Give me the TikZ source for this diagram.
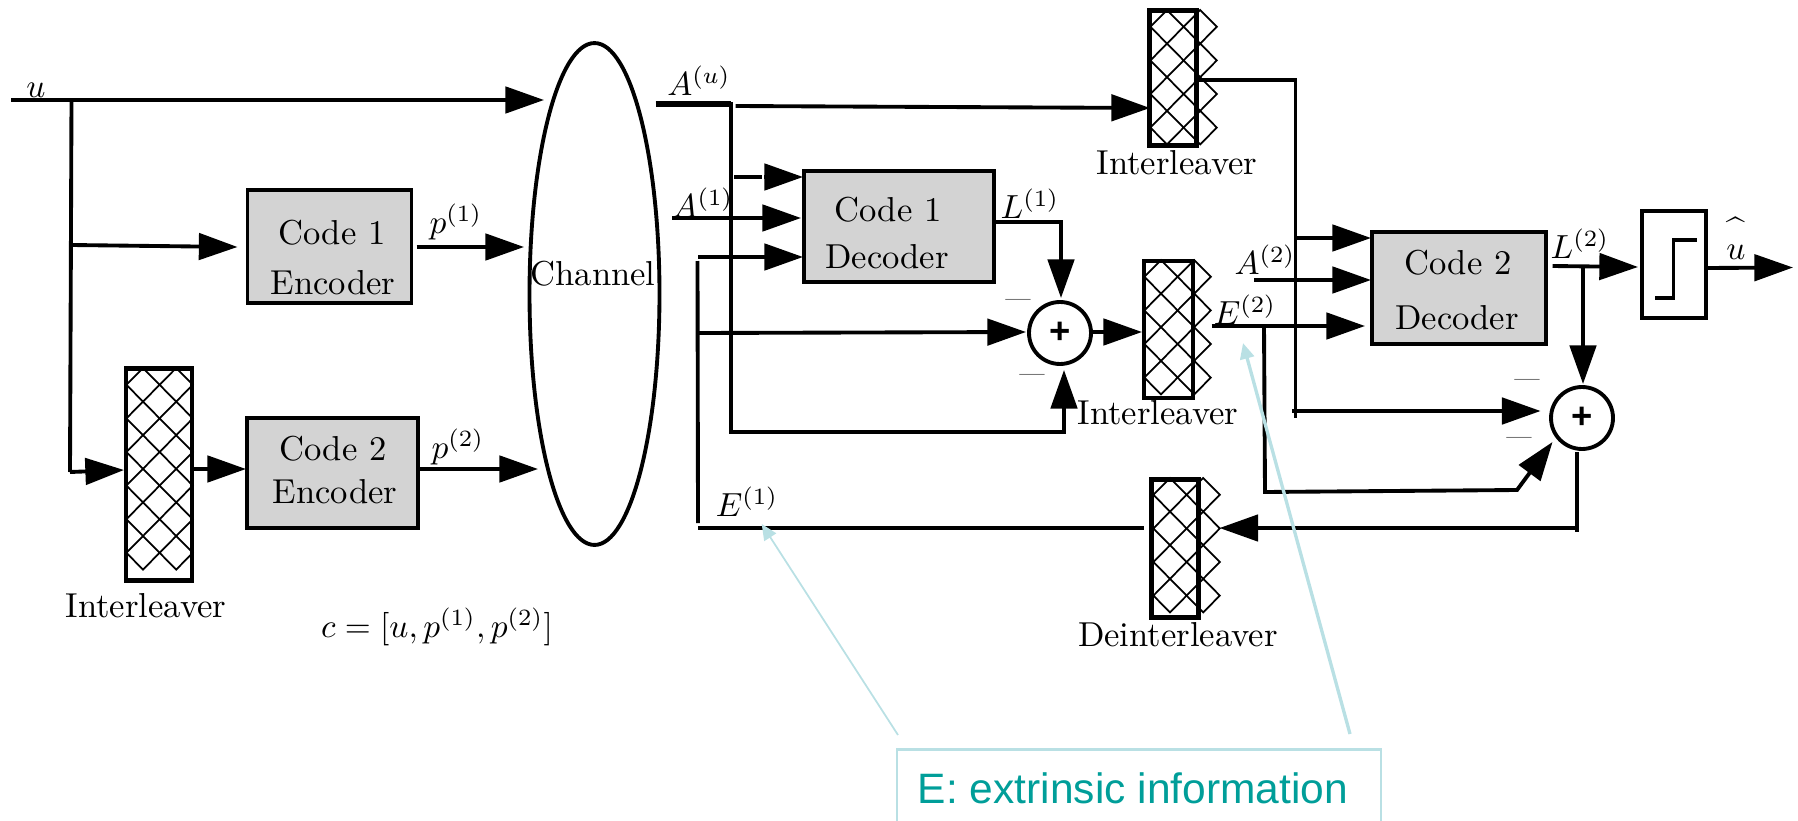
\documentclass[tikz,border=0pt]{standalone}
\usepackage{amsmath}
\usepackage{amsfonts}
\usepackage{amssymb}
\usepackage{xcolor}
\usepackage{fontspec}
\usepackage{tikz}
\usetikzlibrary{arrows.meta,shapes.geometric}
\newfontfamily\calloutfont{Liberation Sans}
\definecolor{coderfill}{HTML}{D3D3D3}
\definecolor{calloutline}{HTML}{B9E0E4}
\definecolor{callouttext}{HTML}{009E99}
\tikzstyle{lab}=[draw=none, inner sep=0mm, scale=1.9]
\tikzstyle{txt}=[draw=none, inner sep=0mm, scale=1.97]
\tikzstyle{coder}=[draw, rectangle, fill=coderfill, inner sep=0mm]
\tikzstyle{rack}=[draw, rectangle, inner sep=0mm, line width=2.6pt]
\tikzstyle{summer}=[draw, circle, inner sep=0mm, minimum size=1.24cm, font=\calloutfont\bfseries\huge]
\tikzstyle{latt}=[line width=1pt, line join=miter]
\tikzstyle{tag}=[calloutline, -{Triangle[length=9pt,width=8pt]}]
% one rack of crossed bars: left centre x, top y, rows
\newcommand{\crossrack}[3]{
  \foreach \r in {1,...,#3}
    \foreach \c in {0,1}
      \draw[latt] ({#1+33.2*\c},{#2+33.6*(\r-0.5)}) ++(-16.6,0) -- ++(16.6,-16.8) -- ++(16.6,16.8) -- ++(-16.6,16.8) -- cycle;
}
\begin{document}
\begin{tikzpicture}[x=.02cm, y=-.02cm, line width=2.2pt, >={Triangle[length=22pt,width=15pt]}]
\path[use as bounding box, clip] (0,0) rectangle (1798,821);
% boxes
\node[coder, minimum width=3.28cm, minimum height=2.25cm] (enc1) at (329.5,246.5) {};
\node[coder, minimum width=3.42cm, minimum height=2.2cm] (enc2) at (332.5,473) {};
\node[coder, minimum width=3.81cm, minimum height=2.23cm] (dec1) at (899,226.5) {};
\node[coder, minimum width=3.47cm, minimum height=2.24cm] (dec2) at (1459,288) {};
\node[draw, rectangle, minimum width=1.28cm, minimum height=2.14cm] (slicer) at (1674,264.5) {};
\node[draw, ellipse, inner sep=0mm, minimum width=2.6cm, minimum height=10.04cm] (channel) at (594.5,294) {};
\node[summer] (sum1) at (1060,333) {+};
\node[summer] (sum2) at (1582,418) {+};
% interleavers
\crossrack{143}{368}{6}
\crossrack{1167}{10}{4}
\crossrack{1161}{260}{4}
\crossrack{1170}{478}{4}
\node[rack, minimum width=1.32cm, minimum height=4.24cm] (il1) at (159,474.5) {};
\node[rack, minimum width=.94cm, minimum height=2.7cm] (il2) at (1173,78) {};
\node[rack, minimum width=.98cm, minimum height=2.74cm] (il3) at (1168.5,329.5) {};
\node[rack, minimum width=.95cm, minimum height=2.76cm] (il4) at (1175,548.5) {};
% end points of the lines
\foreach \n/\x/\y in {uin/11/100, usplit/71.5/100, uchan/544/100, ulow/70/472, tap1/72/245, enc1in/237.5/247,
  enc1out/416.5/247, chp1/524/247, il1in/124/470, il1out/194/469, enc2in/246/469, enc2out/420/469, chp2/538/469,
  au/655.5/104, aubus/730.6/104, aucorner/730.6/432, s1low/1064/432, s1lowin/1064/370,
  fwd/735.5/106, il2in/1150/108, topa/734/177, topb/762/177, topc/764/177, dec1a/803/177,
  a1in/672/218, dec1b/801/218, e1top/698/257, dec1c/803/257, e1corner/697.5/261, e1tap/698/333, s1in/1026/332,
  e1low/698/523, e1line/698/528, e1end/1144/528,
  l1out/996/222, l1corner/1061/222, s1top/1061/298, s1out/1093/332, il3in/1142/332,
  il2out/1199/80, bus2top/1295.5/80, bus2low/1295.5/418, bus2tap/1292/411, s2in/1540.6/411,
  bus2up/1295.5/238, dec2a/1371/238, a2in/1254/280, dec2b/1371/280, e2out/1211.5/326, dec2c/1365/326,
  e2tap/1264/326, e2corner/1265/492, e2run/1517/490, s2low/1552.5/442,
  l2out/1552.5/266, slin/1638/267, l2tap/1583/267, s2top/1583/384, slout/1707/268, uhat/1793/267.5,
  s2bot/1577/452, s2end/1577/532, s2back/1577/528, il4in/1219.5/528,
  st1/1655/298, st2/1673.5/298, st3/1673.5/240, st4/1697/240,
  tagl/898/735, tagla/761.7/524, tagr/1350/734, tagra/1243/343}
  \coordinate (\n) at (\x,\y);
% lines
\foreach \f/\t in {uin/uchan, tap1/enc1in, enc1out/chp1, ulow/il1in, il1out/enc2in, enc2out/chp2, fwd/il2in,
  topc/dec1a, a1in/dec1b, e1top/dec1c, e1tap/s1in, s1out/il3in, bus2tap/s2in, bus2up/dec2a, a2in/dec2b,
  e2out/dec2c, l2out/slin, l2tap/s2top, slout/uhat, s2back/il4in}
  \draw[->] (\f) -- (\t);
\foreach \f/\t in {usplit/ulow, topa/topb, e1corner/e1low, e1line/e1end, s2bot/s2end}
  \draw (\f) -- (\t);
\draw[->] (au) -- (aubus) -- (aucorner) -- (s1low) -- (s1lowin);
\draw[line width=2.9pt] (au) -- (aubus);
\draw[->] (l1out) -- (l1corner) -- (s1top);
\draw (il2out) -- (bus2top) -- (bus2low);
\draw[->] (e2tap) -- (e2corner) -- (e2run) -- (s2low);
\draw (st1) -- (st2) -- (st3) -- (st4);
% labels
\foreach \n/\x/\y/\t in {lu/36/90/{$u$}, lp1/456/222/{$p^{(1)}$}, lp2/458/447/{$p^{(2)}$},
  lcw/437/627/{$c = [u,p^{(1)},p^{(2)}]$},
  lau/699/81/{$A^{(u)}$}, la1/703/203/{$A^{(1)}$}, ll1/1030/204/{$L^{(1)}$},
  la2/1265/260/{$A^{(2)}$}, le2/1245/310/{$E^{(2)}$}, le1/747/502/{$E^{(1)}$}, ll2/1580/244/{$L^{(2)}$}}
  \node[lab] (\n) at (\x,\y) {\t};
\foreach \n/\x/\y/\t in {lcode1/332/233/{Code 1}, lenc1/333/283/{Encoder}, lcode2/333/449/{Code 2}, lenc2/335/492/{Encoder},
  lchan/593/274/{Channel}, lil1/146/606/{Interleaver}, lcode3/888/210/{Code 1}, ldec1/887/257/{Decoder},
  lil2/1177/163/{Interleaver}, lil3/1158/413/{Interleaver}, lcode4/1458/263/{Code 2}, ldec2/1457/318/{Decoder},
  ldeil/1178/635/{Deinterleaver}}
  \node[txt] (\n) at (\x,\y) {\t};
\foreach \n/\x/\y in {lm1/1018/303, lm2/1032/378, lm3/1527/383, lm4/1519/441}
  \node[lab, scale=.76] (\n) at (\x,\y) {---};
\node[lab] (lhat) at (1736,237) {$\overset{\raisebox{-.35ex}{$\widehat{\phantom{u}}$}}{u}$};
% callout
\node[draw=calloutline, rectangle, line width=1.5pt, minimum width=9.68cm, minimum height=1.7cm] (callout) at (1139,792) {};
\node[inner sep=0mm, font=\calloutfont\fontsize{24.2pt}{29pt}\selectfont, text=callouttext] (lcallout) at (1133,788) {E: extrinsic information};
\draw[tag, line width=1pt] (tagl) -- (tagla);
\draw[tag, line width=1.9pt] (tagr) -- (tagra);
\end{tikzpicture}
\end{document}
